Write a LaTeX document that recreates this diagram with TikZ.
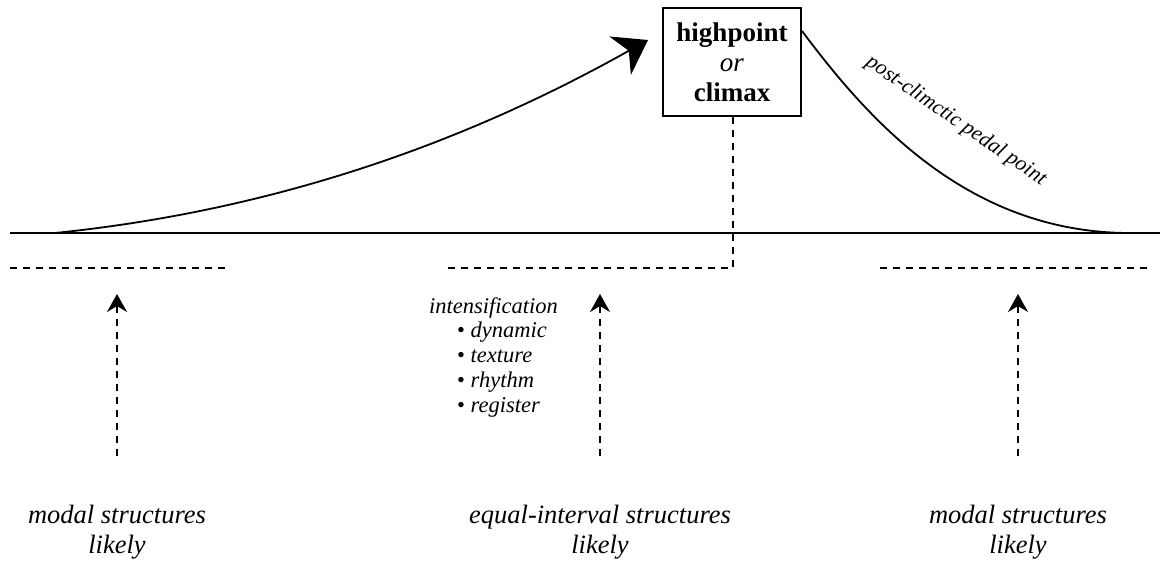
\documentclass[tikz,border=0pt]{standalone}
\usepackage{fontspec}
\setmainfont{Liberation Serif}
\usetikzlibrary{arrows.meta}
\begin{document}
\begin{tikzpicture}[x=1pt,y=-1pt,
  solidline/.style={line width=1.8pt},
  dashline/.style={line width=1.8pt,dash pattern=on 7pt off 6pt},
  uparrow/.style={dashline,-{Stealth[length=18pt,width=20pt,inset=6pt]}},
  label/.style={font=\fontsize{26.5}{30}\selectfont\itshape,align=center},
  listtext/.style={font=\fontsize{22.5}{25}\selectfont\itshape,align=left,anchor=north west,inner sep=0pt}]
\useasboundingbox (0,0) rectangle (1160,563);

% peak box
\node[draw,line width=2pt,minimum width=138pt,minimum height=108pt,align=center,
      font=\fontsize{27}{30}\selectfont] (peak) at (732,62)
  {\textbf{highpoint}\\\textit{or}\\\textbf{climax}};

% baseline and named points
\coordinate (bl) at (10,233);
\coordinate (br) at (1160,233);
\coordinate (riseStart) at (55,233);
\coordinate (riseEnd) at (648,40);
\coordinate (fallEnd) at (1130,233);
\draw[solidline] (bl) -- (br);

% rising curve towards the climax
\draw[solidline,-{Stealth[length=32pt,width=44pt,inset=10pt]}]
  (riseStart) .. controls (280,210) and (470,140) .. (riseEnd);

% falling curve after the climax
\draw[solidline] (peak.north east) ++(0,24) coordinate (fallStart)
  .. controls (865,115) and (965,233) .. (fallEnd);
\node[font=\fontsize{21.5}{22}\selectfont\itshape,rotate=-34.4] (pedal) at (956,121) {post-climctic pedal point};

% dashed levels
\coordinate (l1) at (10,268);
\coordinate (l2) at (225,268);
\coordinate (m1) at (448,268);
\coordinate (m2) at (733,268);
\coordinate (r1) at (880,268);
\coordinate (r2) at (1150,268);
\draw[dashline] (l1) -- (l2);
\draw[dashline] (peak.south -| m2) -- (m2) -- (m1);
\draw[dashline] (r1) -- (r2);

% bottom labels and arrows
\node[label] (lowL) at (117,532) {modal structures\\likely};
\node[label] (lowM) at (600,532) {equal-interval structures\\likely};
\node[label] (lowR) at (1018,532) {modal structures\\likely};
\coordinate (tipL) at (117,294);
\coordinate (tipM) at (600,294);
\coordinate (tipR) at (1018,294);
\draw[uparrow] (117,456) -- (tipL);
\draw[uparrow] (600,456) -- (tipM);
\draw[uparrow] (1018,456) -- (tipR);

% intensification list
\node[listtext] (intens) at (429,297) {intensification};
\node[listtext] (items) at (457,322)
  {\textup{•} dynamic\\\textup{•} texture\\\textup{•} rhythm\\\textup{•} register};
\end{tikzpicture}
\end{document}
